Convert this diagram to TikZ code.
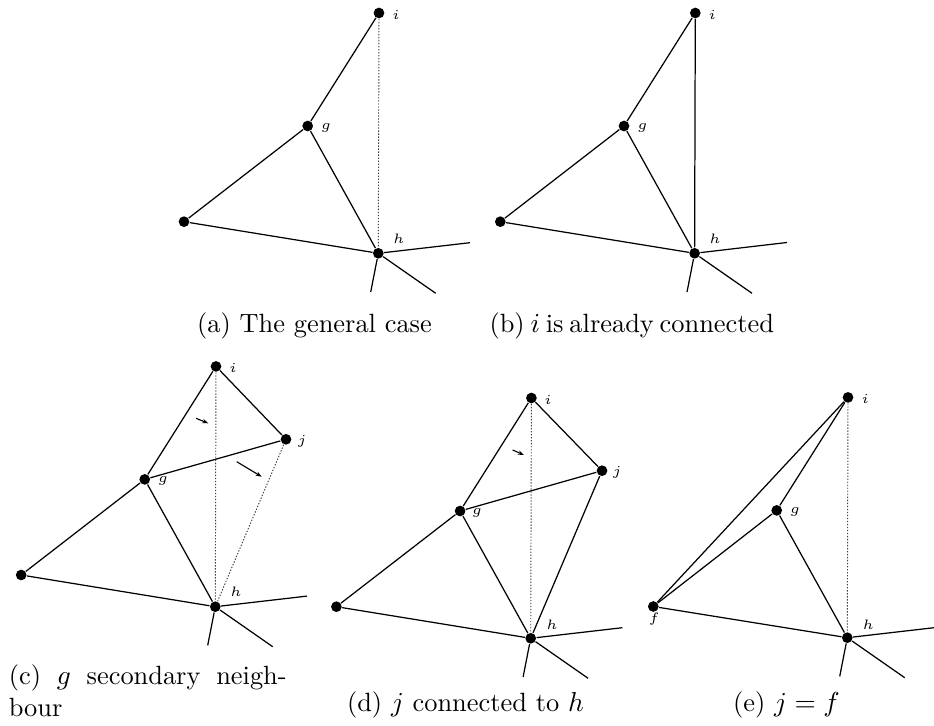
\documentclass[tikz,border=0pt]{standalone}
\usetikzlibrary{arrows.meta}
\begin{document}
\begin{tikzpicture}[x=0.365pt,y=-0.365pt,
  vdot/.style={circle,fill=black,inner sep=0pt,minimum size=3.9pt},
  ln/.style={line width=0.45pt},
  dotline/.style={line width=0.35pt,black!75,dash pattern=on 0.5pt off 0.6pt},
  lbl/.style={inner sep=0pt,font=\fontsize{5.5}{6}\selectfont},
  captxt/.style={inner sep=0pt,anchor=base west,font=\fontsize{9.63}{11.6}\selectfont},
  mv/.style={line width=0.4pt,-{Stealth[length=2.2pt,width=1.6pt]}}]
\useasboundingbox (0,0) rectangle (934,726);

% ---------- (a) ----------
\node[vdot] (ai) at (379,13) {};
\node[vdot] (ag) at (307.7,126) {};
\node[vdot] (aL) at (184,221.7) {};
\node[vdot] (ah) at (378.3,253.3) {};
\coordinate (ar) at (470,242.7);
\coordinate (adl) at (370.7,292);
\coordinate (adr) at (435.7,293.3);
\draw[ln] (ai) -- (ag);
\draw[ln] (ag) -- (aL);
\draw[ln] (aL) -- (ah);
\draw[ln] (ag) -- (ah);
\draw[dotline] (ai) -- (ah);
\draw[ln] (ah) -- (ar);
\draw[ln] (ah) -- (adl);
\draw[ln] (ah) -- (adr);
\node[lbl] (ail) at (396,15) {$i$};
\node[lbl] (agl) at (326,128) {$g$};
\node[lbl] (ahl) at (398.7,239) {$h$};
\node[captxt] (acap) at (196.6,333) {(a) The general case};

% ---------- (b) ----------
\node[vdot] (bi) at (695.3,13) {};
\node[vdot] (bg) at (624,126) {};
\node[vdot] (bL) at (500.3,221.7) {};
\node[vdot] (bh) at (694.6,253.3) {};
\coordinate (br) at (787,242.5);
\coordinate (bdl) at (687,292);
\coordinate (bdr) at (752,293.3);
\draw[ln] (bi) -- (bg);
\draw[ln] (bg) -- (bL);
\draw[ln] (bL) -- (bh);
\draw[ln] (bg) -- (bh);
\draw[ln] (bi) -- (bh);
\draw[ln] (bh) -- (br);
\draw[ln] (bh) -- (bdl);
\draw[ln] (bh) -- (bdr);
\node[lbl] (bil) at (712.3,15) {$i$};
\node[lbl] (bgl) at (642.3,128) {$g$};
\node[lbl] (bhl) at (715,239) {$h$};
\node[captxt] (bcap) at (489,333) {\makebox[103.5pt][s]{(b) $i$ is already connected}};

% ---------- (c) ----------
\node[vdot] (ci) at (216,366.4) {};
\node[vdot] (cj) at (286,439.3) {};
\node[vdot] (cg) at (144.7,479.4) {};
\node[vdot] (cL) at (21.2,575) {};
\node[vdot] (ch) at (215.3,606.7) {};
\coordinate (cr) at (307,596.1);
\coordinate (cdl) at (207.7,645.4);
\coordinate (cdr) at (272.7,646.7);
\draw[ln] (ci) -- (cg);
\draw[ln] (ci) -- (cj);
\draw[ln] (cg) -- (cj);
\draw[ln] (cg) -- (cL);
\draw[ln] (cL) -- (ch);
\draw[ln] (cg) -- (ch);
\draw[dotline] (ci) -- (ch);
\draw[dotline] (cj) -- (ch);
\draw[ln] (ch) -- (cr);
\draw[ln] (ch) -- (cdl);
\draw[ln] (ch) -- (cdr);
\coordinate (ca1s) at (196,418.3);
\coordinate (ca1e) at (208.3,423.3);
\coordinate (ca2s) at (236.7,461.7);
\coordinate (ca2e) at (261.7,476.7);
\draw[mv] (ca1s) -- (ca1e);
\draw[mv] (ca2s) -- (ca2e);
\node[lbl] (cil) at (233,368) {$i$};
\node[lbl] (cjl) at (302,441) {$j$};
\node[lbl] (cgl) at (163,481) {$g$};
\node[lbl] (chl) at (236,592) {$h$};
\node[captxt] (ccap1) at (8.3,684) {\makebox[101.4pt][s]{(c) $g$ secondary neigh-}};
\node[captxt] (ccap2) at (8.3,716.6) {bour};

% ---------- (d) ----------
\node[vdot] (di) at (531.4,398) {};
\node[vdot] (dj) at (602,470.7) {};
\node[vdot] (dg) at (460.1,511) {};
\node[vdot] (dL) at (336.4,606.7) {};
\node[vdot] (dh) at (530.7,638.3) {};
\coordinate (dr) at (622.4,627.7);
\coordinate (ddl) at (523.1,677);
\coordinate (ddr) at (588.1,678.3);
\draw[ln] (di) -- (dg);
\draw[ln] (di) -- (dj);
\draw[ln] (dg) -- (dj);
\draw[ln] (dg) -- (dL);
\draw[ln] (dL) -- (dh);
\draw[ln] (dg) -- (dh);
\draw[ln] (dj) -- (dh);
\draw[dotline] (di) -- (dh);
\draw[ln] (dh) -- (dr);
\draw[ln] (dh) -- (ddl);
\draw[ln] (dh) -- (ddr);
\coordinate (da1s) at (512.7,450);
\coordinate (da1e) at (524,455);
\draw[mv] (da1s) -- (da1e);
\node[lbl] (dil) at (548,400) {$i$};
\node[lbl] (djl) at (617,472) {$j$};
\node[lbl] (dgl) at (477,513) {$g$};
\node[lbl] (dhl) at (552,624.5) {$h$};
\node[captxt] (dcap) at (346.5,711) {(d) $j$ connected to $h$};

% ---------- (e) ----------
\node[vdot] (ei) at (848,397.4) {};
\node[vdot] (eg) at (776.7,510.4) {};
\node[vdot] (ef) at (653.3,606.5) {};
\node[vdot] (eh) at (847.3,637.7) {};
\coordinate (er) at (934,627.7);
\coordinate (edl) at (839.7,676.4);
\coordinate (edr) at (904.7,677.7);
\draw[ln] (ei) -- (eg);
\draw[ln] (ei) -- (ef);
\draw[ln] (eg) -- (ef);
\draw[ln] (ef) -- (eh);
\draw[ln] (eg) -- (eh);
\draw[dotline] (ei) -- (eh);
\draw[ln] (eh) -- (er);
\draw[ln] (eh) -- (edl);
\draw[ln] (eh) -- (edr);
\node[lbl] (eil) at (865.3,399) {$i$};
\node[lbl] (egl) at (795,512.3) {$g$};
\node[lbl] (ehl) at (868.3,624.3) {$h$};
\node[lbl] (efl) at (654,619.3) {$f$};
\node[captxt] (ecap) at (732.5,711) {(e) $j=f$};
\end{tikzpicture}
\end{document}
